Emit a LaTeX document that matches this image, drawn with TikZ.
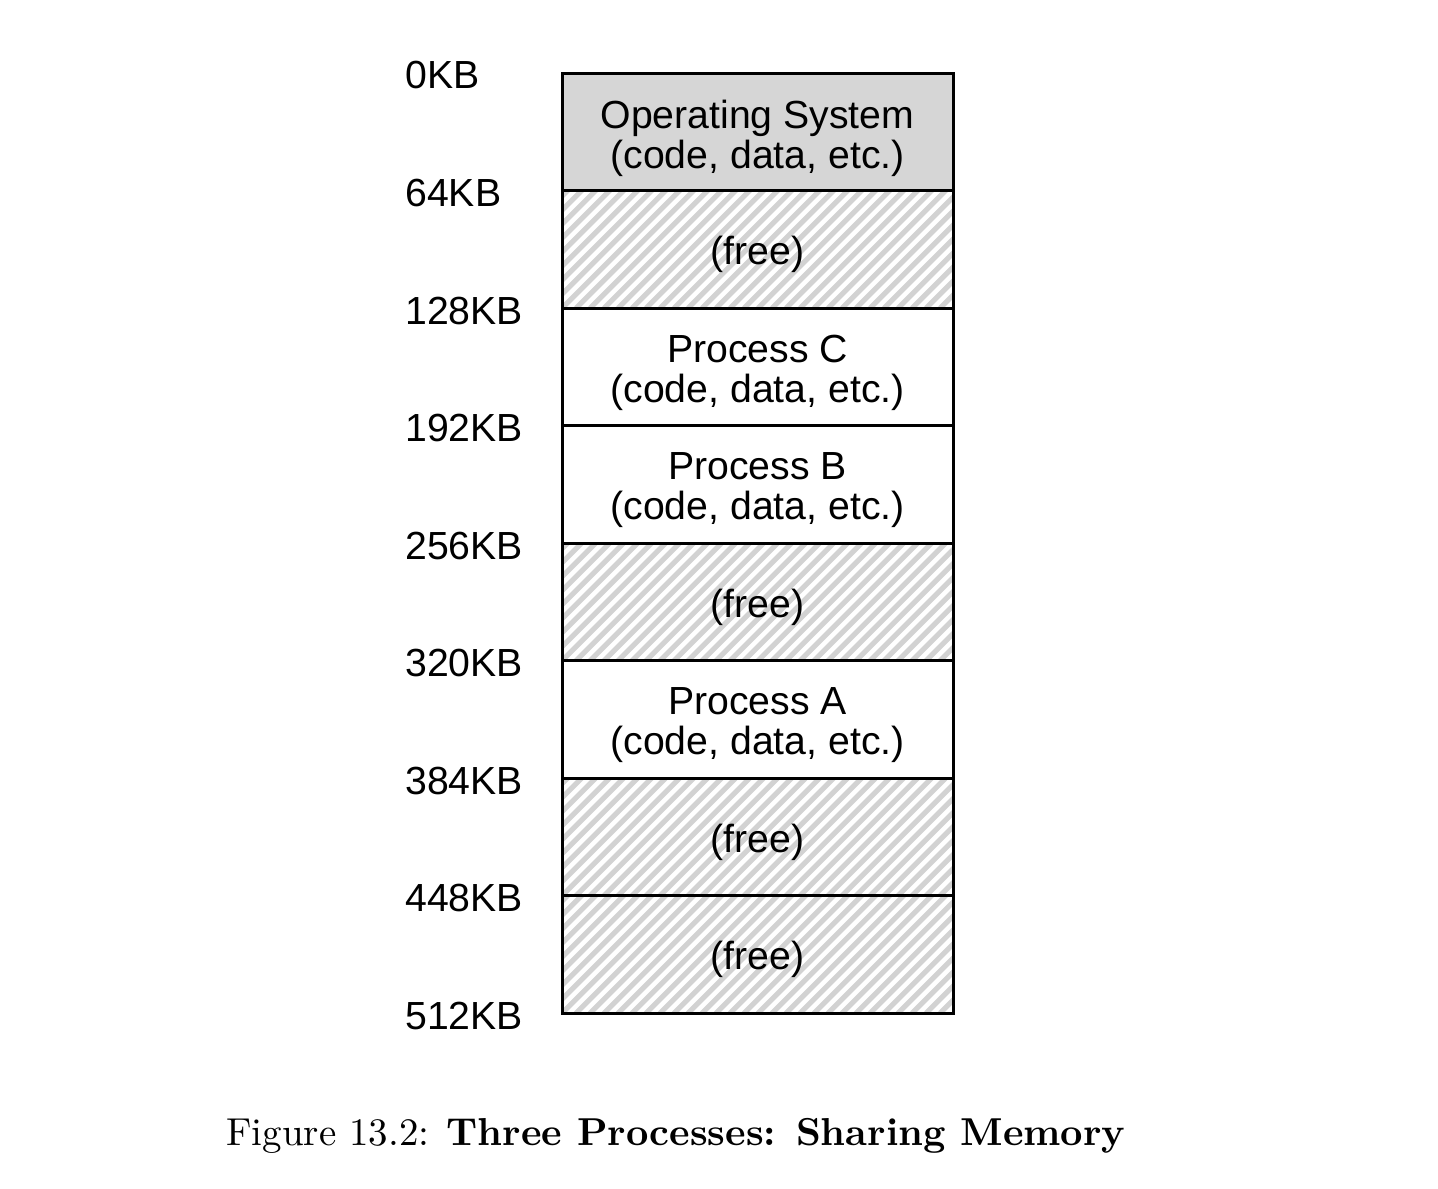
\documentclass[tikz,border=0pt]{standalone}
\usepackage{fontspec}
\setsansfont{Liberation Sans}
\definecolor{osgray}{HTML}{D6D6D6}
\definecolor{hatchgray}{HTML}{D2D2D2}
\tikzset{
  mem/.style={draw, line width=1.5pt, minimum width=195.5pt, minimum height=58.75pt,
    inner sep=0pt, outer sep=0pt},
  osbox/.style={mem, fill=osgray},
  freebox/.style={mem, path picture={
      \foreach \k in {-10,...,30}
        \draw[line width=2.5pt, hatchgray]
          ([xshift=\k*7pt]path picture bounding box.south west) -- ++(62pt,62pt);
    }},
  txt/.style={inner sep=0pt, align=center, font=\sffamily\fontsize{19.6}{20}\selectfont},
  lab/.style={anchor=base west, inner sep=0pt, font=\sffamily\fontsize{19.6}{20}\selectfont},
}
\begin{document}
\begin{tikzpicture}[x=0.5pt,y=-0.5pt]
\useasboundingbox (0,0) rectangle (1438,1188);
% memory regions
\node[osbox]   (os) at (757.5,132)   {};
\node[freebox] (f1) at (757.5,249.5) {};
\node[mem]     (pc) at (757.5,367)   {};
\node[mem]     (pb) at (757.5,484.5) {};
\node[freebox] (f2) at (757.5,602)   {};
\node[mem]     (pa) at (757.5,719.5) {};
\node[freebox] (f3) at (757.5,837)   {};
\node[freebox] (f4) at (757.5,954.5) {};
% region texts
\node[txt] (ost) at ([yshift=-3.3pt]os.center) {Operating System\\(code, data, etc.)};
\node[txt] (f1t) at ([yshift=-2.6pt]f1.center) {(free)};
\node[txt] (pct) at ([yshift=-3pt]pc.center) {Process C\\(code, data, etc.)};
\node[txt] (pbt) at ([yshift=-3pt]pb.center) {Process B\\(code, data, etc.)};
\node[txt] (f2t) at ([yshift=-2.6pt]f2.center) {(free)};
\node[txt] (pat) at ([yshift=-3pt]pa.center) {Process A\\(code, data, etc.)};
\node[txt] (f3t) at ([yshift=-2.6pt]f3.center) {(free)};
\node[txt] (f4t) at ([yshift=-2.6pt]f4.center) {(free)};
% address labels
\node[lab] (l0) at (405,89)     {0KB};
\node[lab] (l1) at (405,206.5)  {64KB};
\node[lab] (l2) at (405,324)    {128KB};
\node[lab] (l3) at (405,441.5)  {192KB};
\node[lab] (l4) at (405,559)    {256KB};
\node[lab] (l5) at (405,676.5)  {320KB};
\node[lab] (l6) at (405,794)    {384KB};
\node[lab] (l7) at (405,911.5)  {448KB};
\node[lab] (l8) at (405,1029)   {512KB};
% caption
\node[anchor=base west, inner sep=0pt] (cap) at (226,1145)
  {\resizebox{449.5pt}{!}{Figure 13.2: \textbf{Three Processes: Sharing Memory}}};
\end{tikzpicture}
\end{document}
